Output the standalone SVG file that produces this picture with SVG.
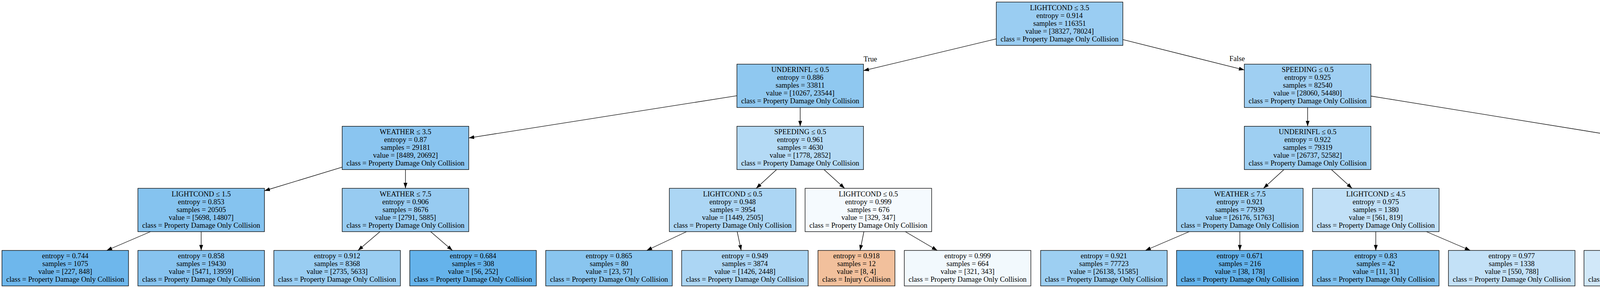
<svg xmlns="http://www.w3.org/2000/svg" width="5304" height="736" viewBox="0 0 5304 736">
<defs>
<style>
.box{stroke:#000;stroke-width:1.33}
text{font-family:"Liberation Serif","Times New Roman",serif;font-size:18.67px;text-anchor:middle;fill:#000}
.e line{stroke:#000;stroke-width:1.33;marker-end:url(#ah)}
</style>
<marker id="ah" markerUnits="userSpaceOnUse" markerWidth="14" markerHeight="10" viewBox="0 0 13.33 9.33" refX="13.33" refY="4.67" orient="auto"><path d="M0,0 L13.33,4.67 L0,9.33 z" fill="#000"/></marker>
</defs>
<rect width="5304" height="736" fill="#fff"/>
<g id="edges" class="e">
<line x1="2550.5" y1="99.4" x2="2210.5" y2="180.6"/>
<line x1="2874.5" y1="101.2" x2="3185.5" y2="178.8"/>
<line x1="1886.5" y1="244.7" x2="1200" y2="352.6"/>
<line x1="2048.5" y1="274.7" x2="2048.5" y2="322.7"/>
<line x1="3347.5" y1="274.7" x2="3347.5" y2="322.7"/>
<line x1="3509.5" y1="245.5" x2="4166.5" y2="351.8"/>
<line x1="876" y1="427.2" x2="677" y2="487.5"/>
<line x1="1038" y1="433.3" x2="1038" y2="481.3"/>
<line x1="1988.2" y1="433.3" x2="1935.8" y2="481.3"/>
<line x1="2109.3" y1="433.3" x2="2162.2" y2="481.3"/>
<line x1="3287" y1="433.3" x2="3234.5" y2="481.3"/>
<line x1="3408.3" y1="433.3" x2="3461.2" y2="481.3"/>
<line x1="4328.5" y1="433.3" x2="4328.5" y2="481.3"/>
<line x1="4488.7" y1="433.3" x2="4627.8" y2="481.3"/>
<line x1="385.4" y1="592" x2="273.1" y2="640"/>
<line x1="515" y1="592" x2="515" y2="640"/>
<line x1="972.8" y1="592" x2="916.4" y2="640"/>
<line x1="1102.4" y1="592" x2="1158.2" y2="640"/>
<line x1="1757.7" y1="592" x2="1655.5" y2="640"/>
<line x1="1887.2" y1="592" x2="1897.4" y2="640"/>
<line x1="2211.6" y1="592" x2="2201.8" y2="640"/>
<line x1="2317.6" y1="592" x2="2399.5" y2="640"/>
<line x1="3044.4" y1="592" x2="2932.1" y2="640"/>
<line x1="3174" y1="592" x2="3174" y2="640"/>
<line x1="3522" y1="592" x2="3522" y2="640"/>
<line x1="3651.6" y1="592" x2="3763.9" y2="640"/>
<line x1="4287" y1="592" x2="4251" y2="640"/>
<line x1="4393.7" y1="592" x2="4450.1" y2="640"/>
<line x1="4788" y1="592" x2="4788" y2="640"/>
<line x1="4917.9" y1="592" x2="5030.6" y2="640"/>
<text x="2228" y="157.3">True</text>
<text x="3167" y="155.7">False</text>
</g>
<g id="n0"><rect class="box" x="2550.5" y="5.3" width="324" height="110.7" fill="#9acdf2"/><text y="25.6"><tspan x="2712.5">LIGHTCOND ≤ 3.5</tspan><tspan x="2712.5" dy="20">entropy = 0.914</tspan><tspan x="2712.5" dy="20">samples = 116351</tspan><tspan x="2712.5" dy="20">value = [38327, 78024]</tspan><tspan x="2712.5" dy="20">class = Property Damage Only Collision</tspan></text></g>
<g id="n1"><rect class="box" x="1886.5" y="164" width="324" height="110.7" fill="#8fc8f0"/><text y="184.3"><tspan x="2048.5">UNDERINFL ≤ 0.5</tspan><tspan x="2048.5" dy="20">entropy = 0.886</tspan><tspan x="2048.5" dy="20">samples = 33811</tspan><tspan x="2048.5" dy="20">value = [10267, 23544]</tspan><tspan x="2048.5" dy="20">class = Property Damage Only Collision</tspan></text></g>
<g id="n2"><rect class="box" x="3185.5" y="164" width="324" height="110.7" fill="#9fcff2"/><text y="184.3"><tspan x="3347.5">SPEEDING ≤ 0.5</tspan><tspan x="3347.5" dy="20">entropy = 0.925</tspan><tspan x="3347.5" dy="20">samples = 82540</tspan><tspan x="3347.5" dy="20">value = [28060, 54480]</tspan><tspan x="3347.5" dy="20">class = Property Damage Only Collision</tspan></text></g>
<g id="n3"><rect class="box" x="876" y="322.7" width="324" height="110.7" fill="#8ac5f0"/><text y="343"><tspan x="1038">WEATHER ≤ 3.5</tspan><tspan x="1038" dy="20">entropy = 0.87</tspan><tspan x="1038" dy="20">samples = 29181</tspan><tspan x="1038" dy="20">value = [8489, 20692]</tspan><tspan x="1038" dy="20">class = Property Damage Only Collision</tspan></text></g>
<g id="n4"><rect class="box" x="1886.5" y="322.7" width="324" height="110.7" fill="#b4daf5"/><text y="343"><tspan x="2048.5">SPEEDING ≤ 0.5</tspan><tspan x="2048.5" dy="20">entropy = 0.961</tspan><tspan x="2048.5" dy="20">samples = 4630</tspan><tspan x="2048.5" dy="20">value = [1778, 2852]</tspan><tspan x="2048.5" dy="20">class = Property Damage Only Collision</tspan></text></g>
<g id="n5"><rect class="box" x="3185.5" y="322.7" width="324" height="110.7" fill="#9ecff2"/><text y="343"><tspan x="3347.5">UNDERINFL ≤ 0.5</tspan><tspan x="3347.5" dy="20">entropy = 0.922</tspan><tspan x="3347.5" dy="20">samples = 79319</tspan><tspan x="3347.5" dy="20">value = [26737, 52582]</tspan><tspan x="3347.5" dy="20">class = Property Damage Only Collision</tspan></text></g>
<g id="n6"><rect class="box" x="4166.5" y="322.7" width="324" height="110.7" fill="#c3e1f7"/><text y="343"><tspan x="4328.5">ROADCOND ≤ 0.5</tspan><tspan x="4328.5" dy="20">entropy = 0.977</tspan><tspan x="4328.5" dy="20">samples = 3221</tspan><tspan x="4328.5" dy="20">value = [1323, 1898]</tspan><tspan x="4328.5" dy="20">class = Property Damage Only Collision</tspan></text></g>
<g id="n7"><rect class="box" x="353" y="481.3" width="324" height="110.7" fill="#85c3ef"/><text y="501.6"><tspan x="515">LIGHTCOND ≤ 1.5</tspan><tspan x="515" dy="20">entropy = 0.853</tspan><tspan x="515" dy="20">samples = 20505</tspan><tspan x="515" dy="20">value = [5698, 14807]</tspan><tspan x="515" dy="20">class = Property Damage Only Collision</tspan></text></g>
<g id="n8"><rect class="box" x="876" y="481.3" width="324" height="110.7" fill="#97cbf1"/><text y="501.6"><tspan x="1038">WEATHER ≤ 7.5</tspan><tspan x="1038" dy="20">entropy = 0.906</tspan><tspan x="1038" dy="20">samples = 8676</tspan><tspan x="1038" dy="20">value = [2791, 5885]</tspan><tspan x="1038" dy="20">class = Property Damage Only Collision</tspan></text></g>
<g id="n9"><rect class="box" x="1713.5" y="481.3" width="324" height="110.7" fill="#acd6f4"/><text y="501.6"><tspan x="1875.5">LIGHTCOND ≤ 0.5</tspan><tspan x="1875.5" dy="20">entropy = 0.948</tspan><tspan x="1875.5" dy="20">samples = 3954</tspan><tspan x="1875.5" dy="20">value = [1449, 2505]</tspan><tspan x="1875.5" dy="20">class = Property Damage Only Collision</tspan></text></g>
<g id="n10"><rect class="box" x="2061" y="481.3" width="324" height="110.7" fill="#f5fafe"/><text y="501.6"><tspan x="2223">LIGHTCOND ≤ 0.5</tspan><tspan x="2223" dy="20">entropy = 0.999</tspan><tspan x="2223" dy="20">samples = 676</tspan><tspan x="2223" dy="20">value = [329, 347]</tspan><tspan x="2223" dy="20">class = Property Damage Only Collision</tspan></text></g>
<g id="n11"><rect class="box" x="3012" y="481.3" width="324" height="110.7" fill="#9dcff2"/><text y="501.6"><tspan x="3174">WEATHER ≤ 7.5</tspan><tspan x="3174" dy="20">entropy = 0.921</tspan><tspan x="3174" dy="20">samples = 77939</tspan><tspan x="3174" dy="20">value = [26176, 51763]</tspan><tspan x="3174" dy="20">class = Property Damage Only Collision</tspan></text></g>
<g id="n12"><rect class="box" x="3360" y="481.3" width="324" height="110.7" fill="#c1e0f7"/><text y="501.6"><tspan x="3522">LIGHTCOND ≤ 4.5</tspan><tspan x="3522" dy="20">entropy = 0.975</tspan><tspan x="3522" dy="20">samples = 1380</tspan><tspan x="3522" dy="20">value = [561, 819]</tspan><tspan x="3522" dy="20">class = Property Damage Only Collision</tspan></text></g>
<g id="n13"><rect class="box" x="4166.5" y="481.3" width="324" height="110.7" fill="#d9ecfa"/><text y="501.6"><tspan x="4328.5">UNDERINFL ≤ 0.5</tspan><tspan x="4328.5" dy="20">entropy = 0.992</tspan><tspan x="4328.5" dy="20">samples = 1628</tspan><tspan x="4328.5" dy="20">value = [728, 900]</tspan><tspan x="4328.5" dy="20">class = Property Damage Only Collision</tspan></text></g>
<g id="n14"><rect class="box" x="4626" y="481.3" width="324" height="110.7" fill="#afd7f4"/><text y="501.6"><tspan x="4788">ROADCOND ≤ 5.5</tspan><tspan x="4788" dy="20">entropy = 0.953</tspan><tspan x="4788" dy="20">samples = 1593</tspan><tspan x="4788" dy="20">value = [595, 998]</tspan><tspan x="4788" dy="20">class = Property Damage Only Collision</tspan></text></g>
<g id="l1"><rect class="box" x="5" y="640" width="324" height="90.7" fill="#6eb7ec"/><text y="660.3"><tspan x="167">entropy = 0.744</tspan><tspan x="167" dy="20">samples = 1075</tspan><tspan x="167" dy="20">value = [227, 848]</tspan><tspan x="167" dy="20">class = Property Damage Only Collision</tspan></text></g>
<g id="l2"><rect class="box" x="353" y="640" width="324" height="90.7" fill="#87c3ef"/><text y="660.3"><tspan x="515">entropy = 0.858</tspan><tspan x="515" dy="20">samples = 19430</tspan><tspan x="515" dy="20">value = [5471, 13959]</tspan><tspan x="515" dy="20">class = Property Damage Only Collision</tspan></text></g>
<g id="l3"><rect class="box" x="701" y="640" width="324" height="90.7" fill="#99cdf2"/><text y="660.3"><tspan x="863">entropy = 0.912</tspan><tspan x="863" dy="20">samples = 8368</tspan><tspan x="863" dy="20">value = [2735, 5633]</tspan><tspan x="863" dy="20">class = Property Damage Only Collision</tspan></text></g>
<g id="l4"><rect class="box" x="1049" y="640" width="324" height="90.7" fill="#65b3eb"/><text y="660.3"><tspan x="1211">entropy = 0.684</tspan><tspan x="1211" dy="20">samples = 308</tspan><tspan x="1211" dy="20">value = [56, 252]</tspan><tspan x="1211" dy="20">class = Property Damage Only Collision</tspan></text></g>
<g id="l5"><rect class="box" x="1397" y="640" width="324" height="90.7" fill="#89c5ef"/><text y="660.3"><tspan x="1559">entropy = 0.865</tspan><tspan x="1559" dy="20">samples = 80</tspan><tspan x="1559" dy="20">value = [23, 57]</tspan><tspan x="1559" dy="20">class = Property Damage Only Collision</tspan></text></g>
<g id="l6"><rect class="box" x="1745" y="640" width="324" height="90.7" fill="#acd6f4"/><text y="660.3"><tspan x="1907">entropy = 0.949</tspan><tspan x="1907" dy="20">samples = 3874</tspan><tspan x="1907" dy="20">value = [1426, 2448]</tspan><tspan x="1907" dy="20">class = Property Damage Only Collision</tspan></text></g>
<g id="l7"><rect class="box" x="2094" y="640" width="197" height="90.7" fill="#f2c09c"/><text y="660.3"><tspan x="2192.5">entropy = 0.918</tspan><tspan x="2192.5" dy="20">samples = 12</tspan><tspan x="2192.5" dy="20">value = [8, 4]</tspan><tspan x="2192.5" dy="20">class = Injury Collision</tspan></text></g>
<g id="l8"><rect class="box" x="2315" y="640" width="324" height="90.7" fill="#f2f9fd"/><text y="660.3"><tspan x="2477">entropy = 0.999</tspan><tspan x="2477" dy="20">samples = 664</tspan><tspan x="2477" dy="20">value = [321, 343]</tspan><tspan x="2477" dy="20">class = Property Damage Only Collision</tspan></text></g>
<g id="l9"><rect class="box" x="2664" y="640" width="324" height="90.7" fill="#9dcff2"/><text y="660.3"><tspan x="2826">entropy = 0.921</tspan><tspan x="2826" dy="20">samples = 77723</tspan><tspan x="2826" dy="20">value = [26138, 51585]</tspan><tspan x="2826" dy="20">class = Property Damage Only Collision</tspan></text></g>
<g id="l10"><rect class="box" x="3012" y="640" width="324" height="90.7" fill="#63b2eb"/><text y="660.3"><tspan x="3174">entropy = 0.671</tspan><tspan x="3174" dy="20">samples = 216</tspan><tspan x="3174" dy="20">value = [38, 178]</tspan><tspan x="3174" dy="20">class = Property Damage Only Collision</tspan></text></g>
<g id="l11"><rect class="box" x="3360" y="640" width="324" height="90.7" fill="#7fc0ee"/><text y="660.3"><tspan x="3522">entropy = 0.83</tspan><tspan x="3522" dy="20">samples = 42</tspan><tspan x="3522" dy="20">value = [11, 31]</tspan><tspan x="3522" dy="20">class = Property Damage Only Collision</tspan></text></g>
<g id="l12"><rect class="box" x="3708" y="640" width="324" height="90.7" fill="#c3e1f7"/><text y="660.3"><tspan x="3870">entropy = 0.977</tspan><tspan x="3870" dy="20">samples = 1338</tspan><tspan x="3870" dy="20">value = [550, 788]</tspan><tspan x="3870" dy="20">class = Property Damage Only Collision</tspan></text></g>
<g id="l13"><rect class="box" x="4055" y="640" width="324" height="90.7" fill="#d1e8f9"/><text y="660.3"><tspan x="4217">entropy = 0.987</tspan><tspan x="4217" dy="20">samples = 1511</tspan><tspan x="4217" dy="20">value = [656, 855]</tspan><tspan x="4217" dy="20">class = Property Damage Only Collision</tspan></text></g>
<g id="l14"><rect class="box" x="4405" y="640" width="197" height="90.7" fill="#f5d0b5"/><text y="660.3"><tspan x="4503.5">entropy = 0.961</tspan><tspan x="4503.5" dy="20">samples = 117</tspan><tspan x="4503.5" dy="20">value = [72, 45]</tspan><tspan x="4503.5" dy="20">class = Injury Collision</tspan></text></g>
<g id="l15"><rect class="box" x="4626" y="640" width="324" height="90.7" fill="#84c2ef"/><text y="660.3"><tspan x="4788">entropy = 0.847</tspan><tspan x="4788" dy="20">samples = 186</tspan><tspan x="4788" dy="20">value = [51, 135]</tspan><tspan x="4788" dy="20">class = Property Damage Only Collision</tspan></text></g>
<g id="l16"><rect class="box" x="4975" y="640" width="324" height="90.7" fill="#b6dbf5"/><text y="660.3"><tspan x="5137">entropy = 0.963</tspan><tspan x="5137" dy="20">samples = 1407</tspan><tspan x="5137" dy="20">value = [544, 863]</tspan><tspan x="5137" dy="20">class = Property Damage Only Collision</tspan></text></g>
</svg>
